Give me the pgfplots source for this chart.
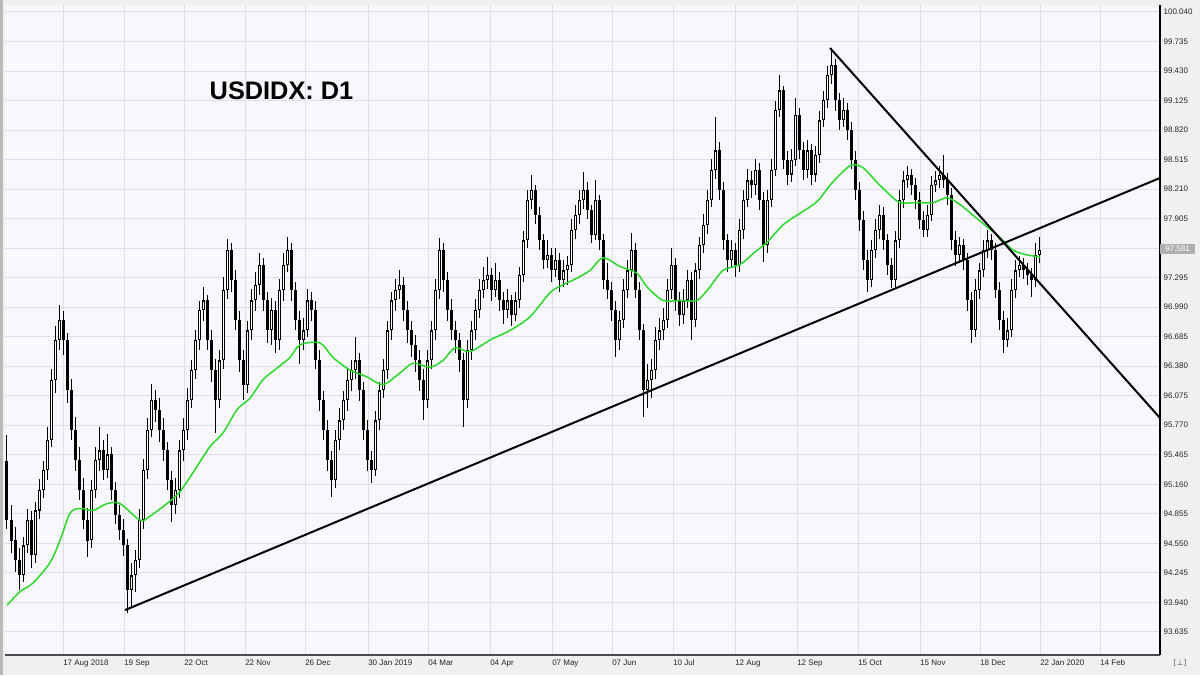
\documentclass[border=0pt]{standalone}
\usepackage{pgfplots}
\usepackage{pgfplotstable}
\usepackage{fontspec}
\setmainfont{Liberation Sans}
\newfontfamily\dejavu{DejaVu Sans}
\pgfplotsset{compat=1.18}

\definecolor{outerbg}{RGB}{240,240,240}
\definecolor{plotbg}{RGB}{247,247,252}
\definecolor{gridc}{RGB}{222,222,234}
\definecolor{maline}{RGB}{40,215,40}
\definecolor{pricebox}{RGB}{175,175,175}

% daily candles, x = bar position on the time axis
\pgfplotstableread{
x o h l c
7 95.40 95.67 94.70 94.79
11 94.79 94.95 94.45 94.58
15 94.58 94.72 94.25 94.38
19 94.38 94.50 94.07 94.22
23 94.22 94.62 94.15 94.53
27 94.53 94.90 94.45 94.79
31 94.79 94.88 94.30 94.43
35 94.43 94.98 94.35 94.89
39 94.89 95.22 94.80 95.10
43 95.10 95.40 95.02 95.31
47 95.31 95.75 95.20 95.62
51 95.62 96.35 95.55 96.24
55 96.24 96.80 96.10 96.65
59 96.65 97.01 96.55 96.86
63 96.86 96.95 96.50 96.65
67 96.65 96.72 96.00 96.13
71 96.13 96.25 95.62 95.72
75 95.72 95.85 95.30 95.41
79 95.41 95.55 95.00 95.10
83 95.10 95.22 94.70 94.79
87 94.79 94.92 94.41 94.58
91 94.58 95.20 94.50 95.10
95 95.10 95.55 95.02 95.41
99 95.41 95.75 95.30 95.51
103 95.51 95.62 95.20 95.31
107 95.31 95.68 95.22 95.47
111 95.47 95.55 95.00 95.10
115 95.10 95.18 94.75 94.84
119 94.84 94.95 94.58 94.69
123 94.69 94.80 94.42 94.53
127 94.53 94.60 93.83 94.07
131 94.07 94.35 93.88 94.22
135 94.22 94.48 94.05 94.38
139 94.38 94.90 94.30 94.79
143 94.79 95.42 94.70 95.31
147 95.31 95.85 95.22 95.72
151 95.72 96.20 95.65 96.03
155 96.03 96.13 95.80 95.93
159 95.93 96.05 95.60 95.72
163 95.72 95.85 95.40 95.51
167 95.51 95.60 95.10 95.20
171 95.20 95.30 94.77 94.95
175 94.95 95.22 94.85 95.10
179 95.10 95.62 95.02 95.51
183 95.51 95.85 95.40 95.72
187 95.72 96.15 95.62 96.03
191 96.03 96.45 95.95 96.34
195 96.34 96.75 96.25 96.65
199 96.65 97.05 96.55 96.96
203 96.96 97.20 96.85 97.06
207 97.06 97.12 96.55 96.65
211 96.65 96.75 96.22 96.34
215 96.34 96.45 95.69 96.03
219 96.03 96.55 95.95 96.44
223 96.44 97.30 96.35 97.17
227 97.17 97.70 97.08 97.58
231 97.58 97.65 97.15 97.27
235 97.27 97.38 96.75 96.86
239 96.86 96.95 96.32 96.44
243 96.44 96.55 96.03 96.19
247 96.19 96.85 96.10 96.75
251 96.75 97.18 96.65 97.06
255 97.06 97.35 96.95 97.22
259 97.22 97.55 97.12 97.43
263 97.43 97.50 96.95 97.06
267 97.06 97.15 96.62 96.75
271 96.75 97.08 96.60 96.96
275 96.96 97.05 96.52 96.65
279 96.65 97.28 96.55 97.17
283 97.17 97.55 97.05 97.43
287 97.43 97.72 97.35 97.58
291 97.58 97.65 97.05 97.17
295 97.17 97.25 96.75 96.86
299 96.86 96.95 96.40 96.65
303 96.65 96.88 96.55 96.75
307 96.75 97.18 96.68 97.06
311 97.06 97.15 96.85 96.96
315 96.96 97.05 96.35 96.44
319 96.44 96.55 95.92 96.03
323 96.03 96.12 95.62 95.72
327 95.72 95.82 95.30 95.41
331 95.41 95.50 95.03 95.20
335 95.20 95.72 95.12 95.62
339 95.62 95.95 95.52 95.82
343 95.82 96.12 95.72 96.03
347 96.03 96.35 95.92 96.24
351 96.24 96.45 96.12 96.34
355 96.34 96.68 96.25 96.44
359 96.44 96.52 96.02 96.13
363 96.13 96.22 95.62 95.72
367 95.72 95.82 95.30 95.41
371 95.41 95.50 95.17 95.31
375 95.31 95.92 95.25 95.82
379 95.82 96.22 95.72 96.13
383 96.13 96.45 96.05 96.34
387 96.34 96.85 96.25 96.75
391 96.75 97.15 96.65 97.06
395 97.06 97.28 96.95 97.17
399 97.17 97.37 97.08 97.22
403 97.22 97.30 96.85 96.96
407 96.96 97.05 96.62 96.75
411 96.75 96.85 96.48 96.60
415 96.60 96.70 96.32 96.44
419 96.44 96.55 96.12 96.24
423 96.24 96.35 95.82 96.03
427 96.03 96.55 95.95 96.44
431 96.44 96.85 96.35 96.75
435 96.75 97.28 96.65 97.17
439 97.17 97.71 97.08 97.58
443 97.58 97.65 97.15 97.27
447 97.27 97.35 96.85 96.96
451 96.96 97.08 96.65 96.75
455 96.75 96.85 96.52 96.65
459 96.65 96.72 96.32 96.44
463 96.44 96.52 95.75 96.03
467 96.03 96.65 95.95 96.55
471 96.55 96.85 96.45 96.75
475 96.75 97.08 96.65 96.96
479 96.96 97.28 96.88 97.17
483 97.17 97.40 97.08 97.27
487 97.27 97.51 97.18 97.32
491 97.32 97.40 97.05 97.17
495 97.17 97.45 97.10 97.27
499 97.27 97.35 96.95 97.06
503 97.06 97.15 96.82 96.96
507 96.96 97.18 96.88 97.06
511 97.06 97.12 96.80 96.91
515 96.91 97.15 96.85 97.06
519 97.06 97.40 96.98 97.32
523 97.32 97.78 97.25 97.68
527 97.68 98.20 97.60 98.10
531 98.10 98.36 98.00 98.20
535 98.20 98.25 97.85 97.94
539 97.94 98.02 97.58 97.68
543 97.68 97.75 97.38 97.48
547 97.48 97.68 97.40 97.53
551 97.53 97.60 97.25 97.37
555 97.37 97.60 97.30 97.48
559 97.48 97.55 97.15 97.27
563 97.27 97.48 97.20 97.37
567 97.37 97.52 97.22 97.43
571 97.43 97.90 97.35 97.79
575 97.79 98.05 97.70 97.94
579 97.94 98.20 97.85 98.10
583 98.10 98.39 98.00 98.20
587 98.20 98.28 97.90 97.99
591 97.99 98.05 97.65 97.74
595 97.74 98.30 97.68 98.10
599 98.10 98.15 97.58 97.68
603 97.68 97.75 97.18 97.27
607 97.27 97.45 97.08 97.17
611 97.17 97.25 96.85 96.96
615 96.96 97.05 96.48 96.65
619 96.65 96.95 96.55 96.86
623 96.86 97.28 96.78 97.17
627 97.17 97.48 97.08 97.37
631 97.37 97.76 97.30 97.58
635 97.58 97.65 97.08 97.17
639 97.17 97.25 96.65 96.75
643 96.75 96.82 95.85 96.13
647 96.13 96.40 95.95 96.24
651 96.24 96.45 96.05 96.34
655 96.34 96.78 96.25 96.65
659 96.65 96.88 96.55 96.75
663 96.75 96.98 96.65 96.86
667 96.86 97.28 96.78 97.17
671 97.17 97.60 97.08 97.43
675 97.43 97.50 96.95 97.06
679 97.06 97.15 96.80 96.91
683 96.91 97.18 96.82 97.06
687 97.06 97.38 96.98 97.27
691 97.27 97.35 96.65 96.86
695 96.86 97.45 96.78 97.37
699 97.37 97.72 97.28 97.63
703 97.63 97.95 97.55 97.84
707 97.84 98.20 97.75 98.10
711 98.10 98.52 98.02 98.41
715 98.41 98.96 98.32 98.61
719 98.61 98.70 98.10 98.20
723 98.20 98.28 97.58 97.68
727 97.68 97.75 97.35 97.48
731 97.48 97.68 97.40 97.58
735 97.58 97.65 97.30 97.43
739 97.43 97.90 97.35 97.79
743 97.79 98.20 97.70 98.10
747 98.10 98.42 98.02 98.30
751 98.30 98.40 98.12 98.25
755 98.25 98.52 98.15 98.41
759 98.41 98.48 98.00 98.10
763 98.10 98.18 97.46 97.63
767 97.63 98.20 97.55 98.10
771 98.10 98.52 98.02 98.41
775 98.41 99.12 98.35 99.03
779 99.03 99.39 98.95 99.23
783 99.23 99.28 98.42 98.51
787 98.51 98.60 98.25 98.36
791 98.36 98.62 98.28 98.51
795 98.51 99.15 98.45 98.98
799 98.98 99.05 98.52 98.61
803 98.61 98.70 98.30 98.41
807 98.41 98.72 98.33 98.61
811 98.61 98.68 98.25 98.36
815 98.36 98.65 98.28 98.56
819 98.56 99.02 98.48 98.92
823 98.92 99.22 98.85 99.13
827 99.13 99.48 99.05 99.39
831 99.39 99.67 99.30 99.49
835 99.49 99.55 99.02 99.13
839 99.13 99.20 98.82 98.92
843 98.92 99.15 98.85 99.03
847 99.03 99.10 98.72 98.82
851 98.82 98.90 98.42 98.51
855 98.51 98.60 98.10 98.20
859 98.20 98.28 97.78 97.89
863 97.89 97.98 97.38 97.48
867 97.48 97.58 97.15 97.27
871 97.27 97.68 97.20 97.58
875 97.58 97.90 97.50 97.79
879 97.79 98.05 97.70 97.94
883 97.94 98.02 97.58 97.68
887 97.68 97.75 97.32 97.43
891 97.43 97.50 97.19 97.27
895 97.27 97.78 97.20 97.68
899 97.68 98.20 97.60 98.10
903 98.10 98.40 98.02 98.30
907 98.30 98.45 98.22 98.36
911 98.36 98.42 98.15 98.25
915 98.25 98.32 98.00 98.10
919 98.10 98.18 97.80 97.89
923 97.89 97.98 97.72 97.79
927 97.79 98.05 97.72 97.94
931 97.94 98.35 97.88 98.25
935 98.25 98.40 98.18 98.30
939 98.30 98.45 98.22 98.36
943 98.36 98.56 98.22 98.30
947 98.30 98.38 98.05 98.15
951 98.15 98.22 97.58 97.68
955 97.68 97.78 97.42 97.53
959 97.53 97.72 97.45 97.63
963 97.63 97.70 97.38 97.48
967 97.48 97.55 96.95 97.06
971 97.06 97.15 96.62 96.75
975 96.75 97.28 96.68 97.17
979 97.17 97.45 97.08 97.37
983 97.37 97.68 97.30 97.58
987 97.58 97.79 97.50 97.68
991 97.68 97.75 97.48 97.58
995 97.58 97.65 97.08 97.17
999 97.17 97.25 96.75 96.86
1003 96.86 96.95 96.52 96.65
1007 96.65 96.88 96.58 96.75
1011 96.75 97.28 96.68 97.17
1015 97.17 97.48 97.08 97.37
1019 97.37 97.52 97.30 97.43
1023 97.43 97.50 97.28 97.37
1027 97.37 97.45 97.22 97.32
1031 97.32 97.40 97.10 97.27
1035 97.27 97.65 97.20 97.53
1039 97.53 97.71 97.45 97.58
}\usdidx

\begin{document}
\begin{tikzpicture}
\fill[outerbg] (0,0) rectangle (900pt,506.25pt);
\fill[gray!55] (0,0) rectangle (2.5pt,506.25pt);
\begin{axis}[
  at={(3.75pt,15pt)}, anchor=south west,
  scale only axis, width=866.25pt, height=487.5pt,
  xmin=5, xmax=1160, ymin=93.396, ymax=100.112,
  axis x line=bottom, axis y line=right, axis line style={-},
  x axis line style={black!70, line width=0.75pt},
  y axis line style={black, line width=1.3pt},
  axis background/.style={fill=plotbg},
  xmajorgrids, ymajorgrids,
  major grid style={gridc, line width=0.75pt},
  major tick length=0pt,
  xtick={63,124,184,245,305,368,428,490,552,612,673,735,797,858,920,980,1040,1100},
  xticklabels={17 Aug 2018,19 Sep,22 Oct,22 Nov,26 Dec,30 Jan 2019,04 Mar,04 Apr,07 May,07 Jun,10 Jul,12 Aug,12 Sep,15 Oct,15 Nov,18 Dec,22 Jan 2020,14 Feb},
  ytick={93.635,93.940,94.245,94.550,94.855,95.160,95.465,95.770,96.075,96.380,96.685,96.990,97.295,97.600,97.905,98.210,98.515,98.820,99.125,99.430,99.735,100.040},
  yticklabels={93.635,93.940,94.245,94.550,94.855,95.160,95.465,95.770,96.075,96.380,96.685,96.990,97.295,97.600,97.905,98.210,98.515,98.820,99.125,99.430,99.735,100.040},
  tick label style={font=\fontsize{6}{7}\selectfont, text=black!85},
  xticklabel style={anchor=north west, inner sep=0pt, text height=4.6pt, text depth=1.4pt, yshift=-3pt},
  yticklabel style={anchor=west, inner sep=0pt, xshift=2.5pt},
  clip mode=individual,
]
% wicks
\addplot[draw=none, mark=none, forget plot,
  error bars/.cd, y dir=both, y explicit, error mark=none,
  error bar style={draw=black, line width=0.75pt}]
  table[x=x, y expr=(\thisrow{h}+\thisrow{l})/2, y error expr=(\thisrow{h}-\thisrow{l})/2] {\usdidx};
% bodies
\addplot[draw=none, mark=none, forget plot,
  error bars/.cd, y dir=both, y explicit, error mark=none,
  error bar style={draw=black, line width=2.25pt}]
  table[x=x, y expr=(\thisrow{o}+\thisrow{c})/2, y error expr=abs(\thisrow{c}-\thisrow{o})/2] {\usdidx};
% hollow up candles
\addplot[draw=none, mark=none, forget plot,
  error bars/.cd, y dir=both, y explicit, error mark=none,
  error bar style={draw=white, line width=0.6pt}]
  table[x expr={\thisrow{c}>\thisrow{o} ? \thisrow{x} : nan}, y expr=(\thisrow{o}+\thisrow{c})/2, y error expr=(\thisrow{c}-\thisrow{o})/2-0.012] {\usdidx};
% moving average
\addplot[maline, line width=1.1pt, mark=none, smooth] coordinates {
(7,93.91) (20,94.05) (33,94.14) (50,94.35) (60,94.58) (70,94.86) (80,94.91) (93,94.89)
(107,94.96) (120,94.96) (140,94.79) (150,94.83) (177,95.05) (193,95.28) (210,95.55)
(223,95.69) (237,95.93) (250,96.05) (263,96.24) (277,96.36) (290,96.47) (300,96.60)
(320,96.62) (333,96.47) (350,96.34) (367,96.27) (383,96.19) (400,96.31) (413,96.41)
(430,96.37) (443,96.44) (455,96.57) (470,96.53) (490,96.65) (510,96.75) (530,96.89)
(550,97.14) (563,97.22) (577,97.29) (590,97.37) (603,97.50) (620,97.41) (637,97.34)
(647,97.20) (663,97.06) (680,97.06) (697,97.06) (710,97.20) (723,97.37) (740,97.43)
(755,97.56) (767,97.66) (783,97.84) (800,97.96) (817,98.08) (830,98.25) (843,98.39)
(852,98.46) (863,98.43) (877,98.28) (890,98.15) (900,98.07) (917,98.07) (933,98.07)
(947,98.12) (960,98.05) (973,97.94) (987,97.82) (1000,97.71) (1013,97.58) (1027,97.53)
(1040,97.51)
};
% trend lines
\addplot[black, line width=1.5pt, mark=none] coordinates {(125,93.86) (1160,98.325)};
\addplot[black, line width=1.5pt, mark=none] coordinates {(830,99.668) (1160,95.845)};
\node[fill=pricebox, text=white, anchor=west, inner xsep=1.2pt, inner ysep=1.5pt,
  minimum width=26pt, font=\fontsize{6}{7}\selectfont]
  at (axis cs:1160,97.59) {97.581};
\end{axis}
\node[anchor=base west, font=\fontsize{19}{20}\selectfont\bfseries] at (153.75pt,431.25pt) {USDIDX: D1};
\node[anchor=center, text=black!60, font=\dejavu\fontsize{6}{7}\selectfont] at (885pt,9pt) {[⊥]};
\end{tikzpicture}
\end{document}
